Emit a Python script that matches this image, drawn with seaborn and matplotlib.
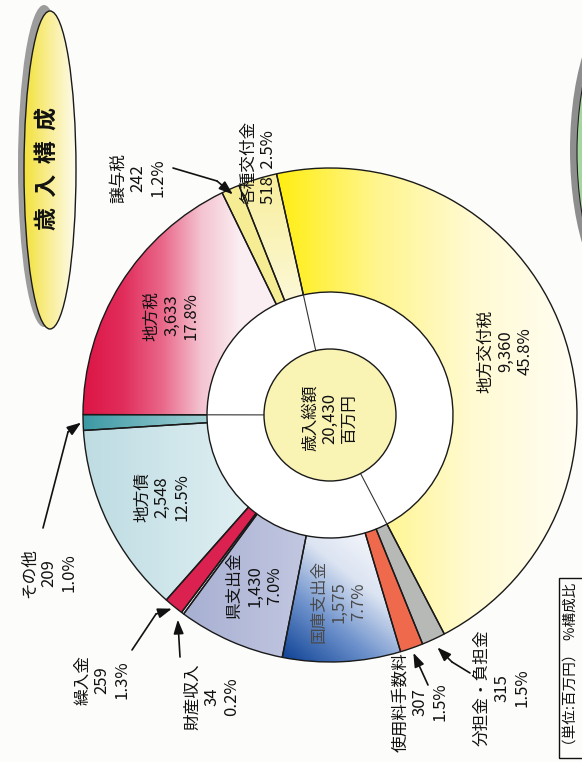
import numpy as np
import matplotlib
matplotlib.use("Agg")
import matplotlib.pyplot as plt
from matplotlib.patches import Circle, Ellipse
import seaborn as sns

# ---------------- data ----------------
categories = ["各種交付金", "譲与税", "地方税", "その他", "地方債", "繰入金", "財産収入",
              "県支出金", "国庫支出金", "使用料手数料", "分担金・負担金", "地方交付税"]
amounts = [518, 242, 3633, 209, 2548, 259, 34, 1430, 1575, 307, 315, 9360]
shares = ["2.5%", "1.2%", "17.8%", "1.0%", "12.5%", "1.3%", "0.2%",
          "7.0%", "7.7%", "1.5%", "1.5%", "45.8%"]
total_lines = ["歳入総額", "20,430", "百万円"]
title_text = "歳  入  構  成"
unit_note = "（単位:百万円）  %構成比"

# ---------------- style ----------------
base_colors = ['#F9F2B6', '#F6EC94', '#E9587D', '#6FB5BD', '#CFE7EB', '#DA2150',
               '#FFFFFF', '#B4BBD9', '#5F86C2', '#EF6A4C', '#B7B9B7', '#FFF59E']
gradients = {
    "地方交付税": ((280, 0), (565, 0), ['#FFEE14', '#FFF58C', '#FFFAD0', '#FFFDF0']),
    "地方税": ((85, 0), (240, 0), ['#DD1646', '#E12E5C', '#E9688A', '#F4C3D0', '#FAEEF2']),
    "その他": ((84, 0), (215, 0), ['#3C99A4', '#AAD5DA']),
    "地方債": ((84, 0), (245, 0), ['#BDDCE2', '#DFEFF2']),
    "県支出金": ((190, 0), (330, 0), ['#A9B1D3', '#C7CCE3']),
    "国庫支出金": ((292, 660), (388, 538), ['#17499A', '#6E92CC', '#DCE4F2', '#F8F9FC']),
    "各種交付金": ((0, 175), (0, 300), ['#F8EE9C', '#FCF8D6']),
}
inner_label_cats = ["地方税", "地方債", "県支出金", "国庫支出金", "地方交付税"]
outer_labels = {  # category: (x, y, waypoints, tip radius offset)
    "譲与税": (138, 178, [(173, 168), (217, 181)], -6),
    "その他": (49, 573, [(43, 528), (68, 432)], 2),
    "繰入金": (102, 680, [(132, 650), (156, 614)], 3),
    "財産収入": (212, 697, [(180, 657)], 8),
    "使用料手数料": (420, 702, [(428, 685)], 5),
    "分担金・負担金": (502, 688, [(470, 673), (452, 662)], 9),
}
kakushu_pos = (259, 204)

W, H = 582, 762
BG = '#FCFCFA'
CX, CY = 330, 415
R_OUT, R_IN, R_CORE = 247, 123, 66
START = 102.5

sns.set_theme(style="white")
plt.rcParams['font.family'] = ['Noto Sans CJK JP', 'DejaVu Sans']

fig = plt.figure(figsize=(W / 100, H / 100), dpi=100, facecolor=BG)
ax = fig.add_axes([0, 0, 1, 1])
ax.set_facecolor(BG)

total = sum(amounts)
frac = np.array(amounts) / total
cum = np.concatenate([[0], np.cumsum(frac)])


def vis_angle(f):
    return START + 360 * f


def polar(phi, r):
    return (CX + r * np.cos(np.radians(phi)), CY - r * np.sin(np.radians(phi)))


yy, xx = np.mgrid[0:H, 0:W] + 0.5


def gradient_image(p0, p1, stops):
    d = np.subtract(p1, p0).astype(float)
    t = ((xx - p0[0]) * d[0] + (yy - p0[1]) * d[1]) / (d @ d)
    t = np.clip(t, 0, 1)
    cmap = sns.blend_palette(stops, as_cmap=True)
    return cmap(t)


def paint(patch, p0, p1, stops, z=1.5):
    im = ax.imshow(gradient_image(p0, p1, stops), extent=(0, W, H, 0), origin='upper',
                   zorder=z, interpolation='bilinear')
    im.set_clip_path(patch)


# decorative neighbour shape (right edge)
ax.add_patch(Ellipse((626, 150), 112, 300, facecolor='#8E8E8E', edgecolor='none', zorder=0.5))
ax.add_patch(Ellipse((633, 152), 112, 300, facecolor='#A6D6A0', edgecolor='#222', lw=0.8, zorder=0.6))

# title oval
ax.add_patch(Ellipse((44, 166), 52, 322, facecolor='#9C9C9C', edgecolor='none', zorder=0.5))
title_oval = Ellipse((50, 170), 52, 318, facecolor='none', edgecolor='#1a1a1a', lw=1.0, zorder=2)
ax.add_patch(title_oval)
paint(title_oval, (24, 0), (76, 0), ['#F3E13A', '#F9EE98', '#FDFBEC'], z=1.0)
ax.text(48, 168, title_text, rotation=90, ha='center', va='center', fontsize=16.5,
        fontweight='bold', color='#111')

# hole background
ax.add_patch(Circle((CX, CY), R_IN, facecolor='white', edgecolor='none', zorder=0.9))

# donut fills
fills, _ = ax.pie(amounts, colors=base_colors, startangle=-START, counterclock=False,
                  radius=R_OUT, center=(CX, CY),
                  wedgeprops=dict(width=R_OUT - R_IN, edgecolor='none', linewidth=0))
for w, cat in zip(fills, categories):
    w.set_zorder(1.2)
    if cat in gradients:
        p0, p1, stops = gradients[cat]
        paint(w, p0, p1, stops)

# donut outlines
outl, _ = ax.pie(amounts, startangle=-START, counterclock=False, radius=R_OUT,
                 center=(CX, CY),
                 wedgeprops=dict(width=R_OUT - R_IN, fill=False, edgecolor='#1a1a1a',
                                 linewidth=1.0))
for w in outl:
    w.set_zorder(3)

# core circle
ax.add_patch(Circle((CX, CY), R_CORE, facecolor='#F9F3B4', edgecolor='#1a1a1a', lw=1.0, zorder=4))

# group separator lines inside hole
for k in [0, 3, 11]:
    phi = vis_angle(cum[k])
    x0, y0 = polar(phi, R_CORE)
    x1, y1 = polar(phi, R_IN)
    ax.plot([x0, x1], [y0, y1], color='#333', lw=0.8, zorder=3)

FS = 12
# inner labels
for i, cat in enumerate(categories):
    if cat in inner_label_cats:
        phi = vis_angle((cum[i] + cum[i + 1]) / 2)
        x, y = polar(phi, 187)
        col = '#4a4a4a' if cat == "国庫支出金" else '#111'
        ax.text(x, y, f"{cat}\n{amounts[i]:,}\n{shares[i]}", rotation=90, ha='center',
                va='center', multialignment='center', fontsize=FS, color=col,
                linespacing=1.2, zorder=5)

# centre label
ax.text(CX, CY + 3, "\n".join(total_lines), rotation=90, ha='center', va='center',
        multialignment='center', fontsize=FS, color='#111', linespacing=1.2, zorder=5)

# outer labels with arrows
for i, cat in enumerate(categories):
    if cat in outer_labels:
        x, y, pts, extra = outer_labels[cat]
        ax.text(x, y, f"{cat}\n{amounts[i]:,}\n{shares[i]}", rotation=90, ha='center',
                va='center', multialignment='center', fontsize=FS, color='#111',
                linespacing=1.2, zorder=5)
        phi = vis_angle((cum[i] + cum[i + 1]) / 2)
        tip = polar(phi, R_OUT + extra)
        if len(pts) > 1:
            ax.plot([p[0] for p in pts], [p[1] for p in pts], color='#111', lw=1.2, zorder=5)
        ax.annotate('', xy=tip, xytext=pts[-1],
                    arrowprops=dict(arrowstyle='-|>,head_length=0.7,head_width=0.25',
                                    color='#111', lw=1.2, shrinkA=0, shrinkB=0), zorder=5)

k = categories.index("各種交付金")
ax.text(kakushu_pos[0], kakushu_pos[1], f"{categories[k]}\n{amounts[k]}  {shares[k]}",
        rotation=90, ha='center', va='bottom', multialignment='left', fontsize=FS,
        color='#111', linespacing=1.2, zorder=6)

# unit note
ax.text(571, 668, unit_note, rotation=90, ha='center', va='center', fontsize=10.5,
        color='#111', bbox=dict(boxstyle='square,pad=0.35', fc='none', ec='#111', lw=1.0))

ax.set_xlim(0, W)
ax.set_ylim(H, 0)
ax.set_aspect('equal')
ax.axis('off')
fig.savefig("out.png", dpi=100, facecolor=BG)
